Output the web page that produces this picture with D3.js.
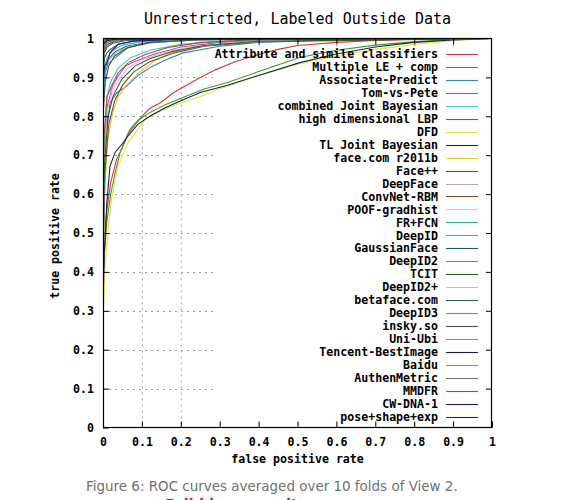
<!DOCTYPE html>
<html>
<head>
<meta charset="utf-8">
<script src="https://cdn.jsdelivr.net/npm/d3@7"></script>
<style>
html,body{margin:0;padding:0;background:#fff;}
svg{display:block;}
</style>
</head>
<body>
<svg id="chart" width="576" height="500"></svg>
<script>
// ---------- data ----------
const chartTitle = "Unrestricted, Labeled Outside Data";
const xTicks = [0,0.1,0.2,0.3,0.4,0.5,0.6,0.7,0.8,0.9,1];
const yTicks = [0,0.1,0.2,0.3,0.4,0.5,0.6,0.7,0.8,0.9,1];
const xTickLabels = ["0","0.1","0.2","0.3","0.4","0.5","0.6","0.7","0.8","0.9","1"];
const yTickLabels = ["0","0.1","0.2","0.3","0.4","0.5","0.6","0.7","0.8","0.9","1"];

const seriesNames = [
  "Attribute and simile classifiers","Multiple LE + comp","Associate-Predict","Tom-vs-Pete",
  "combined Joint Bayesian","high dimensional LBP","DFD","TL Joint Bayesian","face.com r2011b",
  "Face++","DeepFace","ConvNet-RBM","POOF-gradhist","FR+FCN","DeepID","GaussianFace","DeepID2",
  "TCIT","DeepID2+","betaface.com","DeepID3","insky.so","Uni-Ubi","Tencent-BestImage","Baidu",
  "AuthenMetric","MMDFR","CW-DNA-1","pose+shape+exp"
];
const seriesColors = [
  "#d03a3a","#2ea02e","#2f86c4","#c23cc8","#3fc8d8","#a2502c","#e6e23e","#202048","#e2c83c",
  "#1f6e50","#b8a2cc","#7e4626","#f2ace8","#34aa7a","#2fb8b8","#1f5a6a","#a86e80",
  "#1f6a22","#80e2b2","#385a5a","#a4883a","#505050","#9a9a22","#181850","#a88828",
  "#7a7a7a","#666666","#181862","#1e1e86"
];

// ROC points [false positive rate, true positive rate]
const attributeSimile = [[0,0.35],[0.004,0.47],[0.01,0.56],[0.02,0.63],[0.035,0.69],[0.05,0.72],[0.065,0.755],[0.08,0.775],[0.1,0.8],[0.12,0.82],[0.15,0.836],[0.18,0.86],[0.21,0.877],[0.25,0.9],[0.29,0.92],[0.34,0.94],[0.4,0.959],[0.45,0.972],[0.5,0.982],[0.6,0.99],[0.7,0.995],[0.8,0.998],[1,1]];
const multipleLE = [[0,0.33],[0.003,0.44],[0.01,0.53],[0.02,0.6],[0.03,0.65],[0.044,0.707],[0.055,0.735],[0.069,0.766],[0.09,0.79],[0.121,0.81],[0.16,0.83],[0.215,0.852],[0.26,0.87],[0.318,0.886],[0.4,0.915],[0.506,0.951],[0.6,0.97],[0.7,0.983],[0.8,0.992],[0.9,0.997],[1,1]];
const associatePredict = [[0,0.4],[0.003,0.6],[0.008,0.75],[0.018,0.835],[0.035,0.86],[0.061,0.878],[0.09,0.905],[0.12,0.925],[0.16,0.945],[0.206,0.963],[0.3,0.98],[0.4,0.99],[0.6,0.997],[1,1]];
const tomVsPete = [[0,0.45],[0.004,0.7],[0.012,0.83],[0.025,0.88],[0.04,0.905],[0.057,0.929],[0.08,0.94],[0.129,0.959],[0.2,0.978],[0.3,0.99],[0.5,0.997],[1,1]];
const combinedJB = [[0,0.45],[0.003,0.72],[0.01,0.85],[0.02,0.89],[0.04,0.925],[0.07,0.95],[0.12,0.97],[0.2,0.985],[0.35,0.995],[1,1]];
const highDimLBP = [[0,0.5],[0.003,0.75],[0.01,0.85],[0.022,0.878],[0.039,0.912],[0.065,0.938],[0.108,0.959],[0.167,0.977],[0.25,0.99],[0.4,0.997],[1,1]];
const dfd = [[0,0.28],[0.005,0.406],[0.014,0.52],[0.022,0.586],[0.038,0.671],[0.065,0.733],[0.108,0.792],[0.15,0.815],[0.2,0.835],[0.249,0.85],[0.3,0.87],[0.4,0.905],[0.506,0.935],[0.6,0.955],[0.7,0.972],[0.8,0.985],[0.9,0.995],[1,1]];
const tlJointBayesian = [[0,0.32],[0.003,0.44],[0.01,0.58],[0.018,0.672],[0.031,0.707],[0.05,0.73],[0.065,0.75],[0.09,0.78],[0.12,0.8],[0.16,0.822],[0.2,0.84],[0.25,0.861],[0.32,0.88],[0.4,0.905],[0.506,0.938],[0.6,0.96],[0.7,0.978],[0.8,0.99],[0.9,0.996],[1,1]];
const faceCom = [[0,0.42],[0.005,0.62],[0.012,0.74],[0.025,0.81],[0.039,0.85],[0.06,0.88],[0.095,0.915],[0.13,0.94],[0.164,0.959],[0.22,0.975],[0.3,0.987],[0.5,0.997],[1,1]];
const facePlusPlus = [[0,0.3],[0,0.85],[0.005,0.92],[0.013,0.945],[0.03,0.965],[0.06,0.98],[0.12,0.99],[0.25,0.997],[1,1]];
const deepFace = [[0,0.3],[0,0.82],[0.005,0.91],[0.015,0.945],[0.035,0.965],[0.07,0.98],[0.15,0.992],[0.3,0.998],[1,1]];
const convNetRBM = [[0,0.42],[0.005,0.66],[0.015,0.78],[0.03,0.84],[0.05,0.88],[0.08,0.915],[0.12,0.94],[0.18,0.962],[0.26,0.98],[0.4,0.992],[1,1]];
const poofGradhist = [[0,0.45],[0.004,0.68],[0.012,0.82],[0.025,0.87],[0.045,0.9],[0.065,0.925],[0.1,0.945],[0.15,0.962],[0.22,0.978],[0.35,0.99],[0.5,0.996],[1,1]];
const frFcn = [[0,0.3],[0,0.84],[0.006,0.912],[0.013,0.935],[0.031,0.95],[0.065,0.977],[0.12,0.99],[0.25,0.997],[1,1]];
const deepID = [[0,0.3],[0,0.86],[0.005,0.93],[0.01,0.95],[0.025,0.97],[0.05,0.983],[0.1,0.992],[0.2,0.998],[1,1]];
const gaussianFace = [[0,0.3],[0,0.92],[0.003,0.96],[0.01,0.978],[0.025,0.988],[0.06,0.995],[0.15,0.999],[1,1]];
const deepID2 = [[0,0.3],[0,0.95],[0.003,0.975],[0.01,0.988],[0.03,0.995],[0.08,0.999],[1,1]];
const tcit = [[0,0.45],[0.004,0.68],[0.013,0.8],[0.026,0.852],[0.048,0.895],[0.082,0.929],[0.12,0.948],[0.18,0.967],[0.26,0.982],[0.4,0.993],[1,1]];
const deepID2plus = [[0,0.3],[0,0.965],[0.003,0.985],[0.01,0.993],[0.03,0.997],[0.1,1],[1,1]];
const betaface = [[0,0.3],[0,0.9],[0.004,0.95],[0.01,0.963],[0.018,0.971],[0.039,0.985],[0.08,0.993],[0.2,0.999],[1,1]];
const deepID3 = [[0,0.3],[0,0.97],[0.002,0.988],[0.008,0.995],[0.03,0.998],[0.1,1],[1,1]];
const inskySo = [[0,0.3],[0,0.8],[0.006,0.89],[0.015,0.93],[0.03,0.955],[0.06,0.975],[0.12,0.99],[0.25,0.997],[1,1]];
const uniUbi = [[0,0.3],[0,0.94],[0.003,0.97],[0.01,0.985],[0.03,0.994],[0.08,0.999],[1,1]];
const tencentBestImage = [[0,0.3],[0,0.98],[0.002,0.99],[0.008,0.996],[0.03,0.999],[1,1]];
const baidu = [[0,0.3],[0,0.985],[0.002,0.993],[0.008,0.997],[0.03,0.9995],[1,1]];
const authenMetric = [[0,0.3],[0,0.955],[0.003,0.978],[0.01,0.99],[0.03,0.996],[0.08,0.999],[1,1]];
const mmdfr = [[0,0.3],[0,0.94],[0.003,0.968],[0.01,0.983],[0.03,0.993],[0.08,0.998],[1,1]];
const cwDna1 = [[0,0.3],[0,0.965],[0.002,0.985],[0.01,0.994],[0.03,0.998],[1,1]];
const poseShapeExp = [[0,0.3],[0,0.88],[0.004,0.93],[0.01,0.937],[0.018,0.963],[0.039,0.985],[0.08,0.994],[0.2,0.999],[1,1]];

const seriesData = [
  attributeSimile, multipleLE, associatePredict, tomVsPete, combinedJB, highDimLBP, dfd,
  tlJointBayesian, faceCom, facePlusPlus, deepFace, convNetRBM, poofGradhist, frFcn, deepID,
  gaussianFace, deepID2, tcit, deepID2plus, betaface, deepID3, inskySo, uniUbi, tencentBestImage,
  baidu, authenMetric, mmdfr, cwDna1, poseShapeExp
];

const xLabel = "false positive rate";
const yLabel = "true positive rate";
const captionText = "Figure 6: ROC curves averaged over 10 folds of View 2.";
const redText = "Full-blown results page";

// ---------- drawing ----------
const svg = d3.select("#chart");
const L = 103, R = 492, T = 38.5, B = 427.5;
const x = d3.scaleLinear().domain([0,1]).range([L,R]);
const y = d3.scaleLinear().domain([0,1]).range([B,T]);
const mono = "'DejaVu Sans Mono', 'Liberation Mono', monospace";

svg.append("rect").attr("width",576).attr("height",500).attr("fill","#fff");

// grid
const grid = svg.append("g");
xTicks.slice(1,-1).forEach(v=>{
  grid.append("line").attr("x1",x(v)+0.5).attr("x2",x(v)+0.5).attr("y1",T).attr("y2",B)
    .attr("stroke","#a0a0a0").attr("stroke-width",1).attr("stroke-dasharray","2,4");
});
yTicks.slice(1,-1).forEach(v=>{
  grid.append("line").attr("x1",L).attr("x2",R).attr("y1",Math.round(y(v))+0.5).attr("y2",Math.round(y(v))+0.5)
    .attr("stroke","#a0a0a0").attr("stroke-width",1).attr("stroke-dasharray","2,4");
});

// key box hides grid
const keyTop = 47.5, rowH = 12.95, keyLeft = 214;
svg.append("rect").attr("x",keyLeft).attr("y",keyTop)
  .attr("width",R-keyLeft-1).attr("height",rowH*seriesNames.length+0.5).attr("fill","#fff");

// curves
svg.append("clipPath").attr("id","clip").append("rect")
  .attr("x",L).attr("y",T).attr("width",R-L).attr("height",B-T);
const line = d3.line().x(d=>x(d[0])).y(d=>y(d[1]));
const curves = svg.append("g").attr("clip-path","url(#clip)");
seriesData.forEach((pts,i)=>{
  curves.append("path").attr("d",line(pts)).attr("fill","none")
    .attr("stroke",seriesColors[i]).attr("stroke-width",1.1);
});

// axes (inward ticks, all sides)
const ax = svg.append("g").attr("font-family",mono).attr("font-weight","bold").attr("font-size","11.6px");
const bottom = d3.axisBottom(x).tickValues(xTicks).tickFormat((d,i)=>xTickLabels[i]).tickSizeInner(-6).tickSizeOuter(0).tickPadding(10);
const left = d3.axisLeft(y).tickValues(yTicks).tickFormat((d,i)=>yTickLabels[i]).tickSizeInner(-6).tickSizeOuter(0).tickPadding(10);
const gB = ax.append("g").attr("transform",`translate(0,${B})`).call(bottom);
const gL = ax.append("g").attr("transform",`translate(${L},0)`).call(left);
const gT = ax.append("g").attr("transform",`translate(0,${T})`).call(d3.axisTop(x).tickValues(xTicks.slice(1,-1)).tickSizeInner(-6).tickSizeOuter(0).tickFormat(""));
const gR = ax.append("g").attr("transform",`translate(${R},0)`).call(d3.axisRight(y).tickValues(yTicks.slice(1,-1)).tickSizeInner(-6).tickSizeOuter(0).tickFormat(""));
[gB,gL,gT,gR].forEach(g=>{
  g.selectAll("path.domain").remove();
  g.selectAll("line").attr("stroke","#000");
  g.selectAll("text").attr("fill","#000").attr("font-family",mono).attr("font-weight","bold").attr("font-size","11.6px");
});
gB.selectAll("text").attr("dy","0.71em").attr("y",10);
gL.selectAll("text").attr("x",-9);
svg.append("rect").attr("x",L+0.5).attr("y",T).attr("width",R-L-1).attr("height",B-T)
  .attr("fill","none").attr("stroke","#000").attr("stroke-width",1.2);

// key
const key = svg.append("g").attr("font-family",mono).attr("font-weight","bold").attr("font-size","11.6px");
seriesNames.forEach((name,i)=>{
  const cy = 54 + i*rowH;
  key.append("text").attr("x",438).attr("y",cy+4.2).attr("text-anchor","end").attr("fill","#000").text(name);
  key.append("line").attr("x1",446).attr("x2",478).attr("y1",Math.round(cy)+0.5).attr("y2",Math.round(cy)+0.5)
    .attr("stroke",seriesColors[i]).attr("stroke-width",1.1);
});

// titles
svg.append("text").attr("x",(L+R)/2).attr("y",24).attr("text-anchor","middle")
  .attr("font-family",mono).attr("font-size","15px").attr("fill","#000").text(chartTitle);
svg.append("text").attr("x",(L+R)/2).attr("y",463).attr("text-anchor","middle")
  .attr("font-family",mono).attr("font-weight","bold").attr("font-size","11.6px").attr("fill","#000").text(xLabel);
svg.append("text").attr("transform","translate(59,236) rotate(-90)").attr("text-anchor","middle")
  .attr("font-family",mono).attr("font-weight","bold").attr("font-size","11.6px").attr("fill","#000").text(yLabel);

// caption
const cap = svg.append("text").attr("x",86).attr("y",491)
  .attr("font-family","'DejaVu Sans', Verdana, sans-serif").attr("font-size","14px").attr("fill","#707070").text(captionText);
const w = cap.node().getComputedTextLength();
cap.attr("font-size",(14*372/w).toFixed(2)+"px");
svg.append("text").attr("x",165).attr("y",509)
  .attr("font-family","'DejaVu Sans', Verdana, sans-serif").attr("font-weight","bold").attr("font-size","14px").attr("fill","#e02020").text(redText);
</script>
</body>
</html>
